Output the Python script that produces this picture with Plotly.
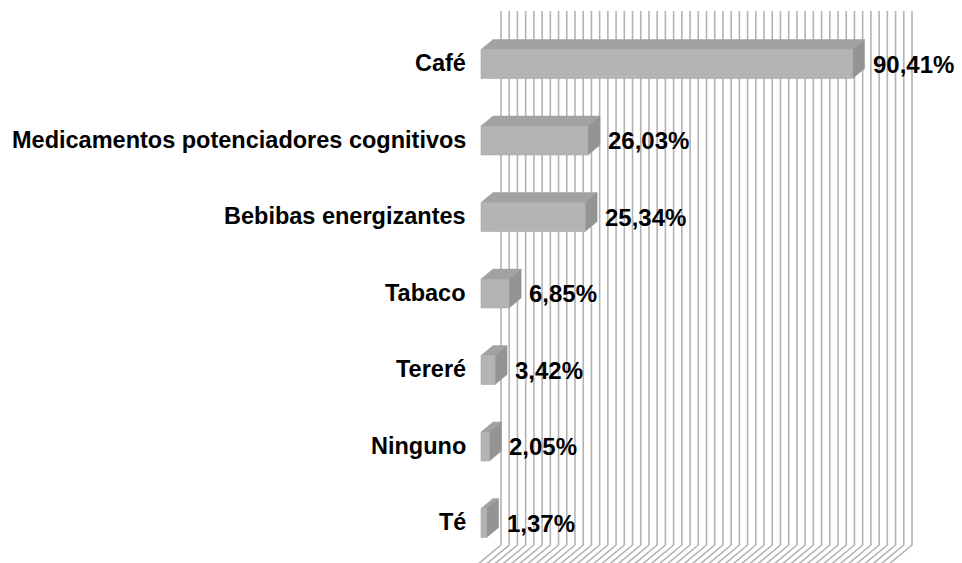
import plotly.graph_objects as go

categories = ["Café", "Medicamentos potenciadores cognitivos", "Bebibas energizantes",
              "Tabaco", "Tereré", "Ninguno", "Té"]
values = [90.41, 26.03, 25.34, 6.85, 3.42, 2.05, 1.37]
value_labels = ["90,41%", "26,03%", "25,34%", "6,85%", "3,42%", "2,05%", "1,37%"]
grid_ticks = list(range(0, 101, 2))

W, H = 962, 563
PX_PER_PCT = 4.11
X0_PX = 481
PX_PER_CAT = 76.5
Y0_PX = 64.0

xr = [(0 - X0_PX) / PX_PER_PCT, (W - X0_PX) / PX_PER_PCT]
yr = [(H - Y0_PX) / PX_PER_CAT, (0 - Y0_PX) / PX_PER_CAT]

def px_x(p):
    return p / PX_PER_PCT

def px_y(p):
    return p / PX_PER_CAT

wall_dx = px_x(20)
wall_top = (11 - Y0_PX) / PX_PER_CAT
wall_bot = (545 - Y0_PX) / PX_PER_CAT
floor_dx = px_x(24)
floor_dy = px_y(20)

bar_dx = px_x(12)
bar_dy = px_y(10)
bar_h = px_y(29)

grid_col = "#b3b3b3"
front_col = "#b4b4b4"
top_col = "#a2a2a2"
side_col = "#949494"

fig = go.Figure()

# back wall gridlines + floor
gx, gy = [], []
for g in grid_ticks:
    gx += [g + wall_dx, g + wall_dx, g + wall_dx - floor_dx, None]
    gy += [wall_top, wall_bot, wall_bot + floor_dy, None]
fig.add_trace(go.Scatter(x=gx, y=gy, mode="lines",
                         line=dict(color=grid_col, width=1.6),
                         hoverinfo="skip", showlegend=False))

# 3D bars
for i, (c, v) in enumerate(zip(categories, values)):
    yt = i - bar_h / 2
    yb = i + bar_h / 2
    fig.add_trace(go.Scatter(
        x=[0, v, v + bar_dx, bar_dx, 0],
        y=[yt, yt, yt - bar_dy, yt - bar_dy, yt],
        fill="toself", fillcolor=top_col, mode="lines",
        line=dict(color=top_col, width=0.5), hoverinfo="skip", showlegend=False))
    fig.add_trace(go.Scatter(
        x=[v, v + bar_dx, v + bar_dx, v, v],
        y=[yt, yt - bar_dy, yb - bar_dy, yb, yt],
        fill="toself", fillcolor=side_col, mode="lines",
        line=dict(color=side_col, width=0.5), hoverinfo="skip", showlegend=False))
    fig.add_trace(go.Scatter(
        x=[0, v, v, 0, 0],
        y=[yt, yt, yb, yb, yt],
        fill="toself", fillcolor=front_col, mode="lines",
        line=dict(color="#a9a9a9", width=0.6), hoverinfo="skip", showlegend=False))

annotations = []
for i, (c, v, lab) in enumerate(zip(categories, values, value_labels)):
    annotations.append(dict(x=0, y=i, text=f"<b>{c}</b>", showarrow=False,
                            xanchor="right", yanchor="middle", xshift=-13, yshift=1,
                            font=dict(family="Liberation Sans, Arial", size=23.5, color="#000000")))
    annotations.append(dict(x=v + bar_dx, y=i, text=f"<b>{lab}</b>", showarrow=False,
                            xanchor="left", yanchor="middle", xshift=6, yshift=0,
                            font=dict(family="Liberation Sans, Arial", size=24, color="#000000")))

fig.update_layout(
    width=W, height=H,
    margin=dict(l=0, r=0, t=0, b=0),
    paper_bgcolor="white", plot_bgcolor="white",
    xaxis=dict(range=xr, visible=False, showgrid=False, zeroline=False, fixedrange=True),
    yaxis=dict(range=yr, visible=False, showgrid=False, zeroline=False, fixedrange=True),
    annotations=annotations,
)

fig.write_html("out.html", config={"displayModeBar": False},
               post_script="document.body.style.margin='0';document.body.style.overflow='hidden';")
